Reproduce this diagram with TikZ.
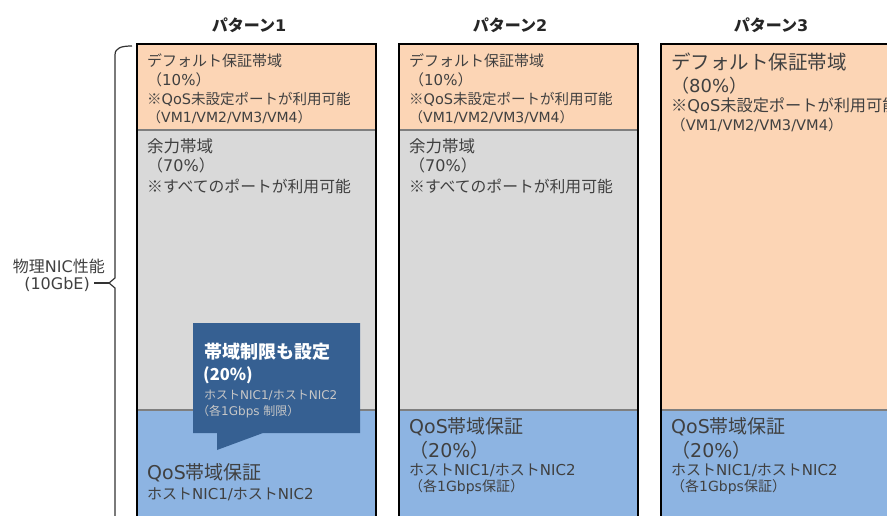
\documentclass[tikz,border=0pt]{standalone}
\usepackage{fontspec}
\setmainfont{Noto Sans CJK JP}
\newfontfamily\latfont{DejaVu Sans}
\newcommand\latx[1]{{\latfont #1}}
\definecolor{orangefill}{HTML}{FCD5B5}
\definecolor{grayfill}{HTML}{D9D9D9}
\definecolor{bluefill}{HTML}{8DB4E2}
\definecolor{calloutfill}{HTML}{366092}
\definecolor{txt}{HTML}{404040}
\definecolor{divider}{HTML}{7F7F7F}
\begin{document}
\begin{tikzpicture}[x=1pt,y=-1pt,
  fs/.style={font=\fontsize{#1}{#1}\selectfont},
  fsb/.style={font=\fontsize{#1}{#1}\selectfont\bfseries},
  lbl/.style={anchor=west,inner sep=0pt,text=txt},
  ttl/.style={inner sep=0pt,text=black!85},
  colbox/.style={draw=black,line width=2.8pt},
  divline/.style={draw=divider,line width=1.6pt},
  cbig/.style={anchor=west,inner sep=0pt,text=white},
  csmall/.style={anchor=west,inner sep=0pt,text=black!22}]
\useasboundingbox (0,0) rectangle (887,516);
\clip (0,0) rectangle (887,516);

% titles
\node[ttl,fsb=16] (t1) at (249,25) {パターン\latx{1}};
\node[ttl,fsb=16] (t2) at (510,25) {パターン\latx{2}};
\node[ttl,fsb=16] (t3) at (771,25) {パターン\latx{3}};

% column 1
\fill[orangefill] (137,44) rectangle (376,130);
\fill[grayfill] (137,130) rectangle (376,410);
\fill[bluefill] (137,410) rectangle (376,530);
\draw[divline] (137,130) -- (376,130);
\draw[divline] (137,410) -- (376,410);
\draw[colbox] (137,44) rectangle (376,530);

% column 2
\fill[orangefill] (399,44) rectangle (638,130);
\fill[grayfill] (399,130) rectangle (638,410);
\fill[bluefill] (399,410) rectangle (638,530);
\draw[divline] (399,130) -- (638,130);
\draw[divline] (399,410) -- (638,410);
\draw[colbox] (399,44) rectangle (638,530);

% column 3
\fill[orangefill] (661,44) rectangle (900,410);
\fill[bluefill] (661,410) rectangle (900,530);
\draw[divline] (661,410) -- (900,410);
\draw[colbox] (661,44) rectangle (900,530);

% column 1 texts
\node[lbl,fs=15] (a1) at (147,61) {デフォルト保証帯域};
\node[lbl,fs=15] (a2) at (147,80) {（\latx{10\%}）};
\node[lbl,fs=14.5] (a3) at (147,99) {※\latx{QoS}未設定ポートが利用可能};
\node[lbl,fs=14] (a4) at (147,117) {（\latx{VM1/VM2/VM3/VM4}）};
\node[lbl,fs=16.5] (b1) at (147,146) {余力帯域};
\node[lbl,fs=16] (b2) at (147,165) {（\latx{70\%}）};
\node[lbl,fs=15.8] (b3) at (147,186) {※すべてのポートが利用可能};
\node[lbl,fs=19] (c1) at (147,473) {\latx{QoS}帯域保証};
\node[lbl,fs=15] (c2) at (147,494) {ホスト\latx{NIC1/}ホスト\latx{NIC2}};

% column 2 texts
\node[lbl,fs=15] (d1) at (409,61) {デフォルト保証帯域};
\node[lbl,fs=15] (d2) at (409,80) {（\latx{10\%}）};
\node[lbl,fs=14.5] (d3) at (409,99) {※\latx{QoS}未設定ポートが利用可能};
\node[lbl,fs=14] (d4) at (409,117) {（\latx{VM1/VM2/VM3/VM4}）};
\node[lbl,fs=16.5] (e1) at (409,146) {余力帯域};
\node[lbl,fs=16] (e2) at (409,165) {（\latx{70\%}）};
\node[lbl,fs=15.8] (e3) at (409,186) {※すべてのポートが利用可能};
\node[lbl,fs=19] (f1) at (409,427) {\latx{QoS}帯域保証};
\node[lbl,fs=19] (f2) at (409,450) {（\latx{20\%}）};
\node[lbl,fs=15] (f3) at (409,470) {ホスト\latx{NIC1/}ホスト\latx{NIC2}};
\node[lbl,fs=14] (f4) at (409,487) {（各\latx{1Gbps}保証）};

% column 3 texts
\node[lbl,fs=19.5] (g1) at (671,62) {デフォルト保証帯域};
\node[lbl,fs=18] (g2) at (671,86) {（\latx{80\%}）};
\node[lbl,fs=16.2] (g3) at (671,106) {※\latx{QoS}未設定ポートが利用可能};
\node[lbl,fs=14.6] (g4) at (671,125) {（\latx{VM1/VM2/VM3/VM4}）};
\node[lbl,fs=19] (h1) at (671,427) {\latx{QoS}帯域保証};
\node[lbl,fs=19] (h2) at (671,450) {（\latx{20\%}）};
\node[lbl,fs=15] (h3) at (671,470) {ホスト\latx{NIC1/}ホスト\latx{NIC2}};
\node[lbl,fs=14] (h4) at (671,487) {（各\latx{1Gbps}保証）};

% callout
\fill[calloutfill] (193,323) -- (360,323) -- (360,433) -- (263,433) -- (217,450) -- (217,433) -- (193,433) -- cycle;
\node[cbig,fsb=18] (k1) at (204,352) {帯域制限も設定};
\node[cbig,fsb=16.5] (k2) at (203,375) {(20\%)};
\node[csmall,fs=12] (k3) at (204,395) {ホスト\latx{NIC1/}ホスト\latx{NIC2}};
\node[csmall,fs=12] (k4) at (197,412) {（各\latx{1Gbps }制限）};

% brace and label
\node[anchor=east,inner sep=0pt,text=txt,fs=16] (n1) at (105,266) {物理\latx{NIC}性能};
\node[anchor=east,inner sep=0pt,text=txt,fs=16] (n2) at (90,284) {\latx{(10GbE)}};
\coordinate (tip) at (109,283);
\coordinate (dashstart) at (94,283);
\draw[draw=black!80,line width=1.2pt,line join=round]
  (132,46) .. controls (121,46) and (115,48) .. (115,55) -- (115,278) -- (tip) -- (115,288) -- (115,530);
\draw[draw=black!80,line width=1.2pt] (dashstart) -- (tip);
\end{tikzpicture}
\end{document}
